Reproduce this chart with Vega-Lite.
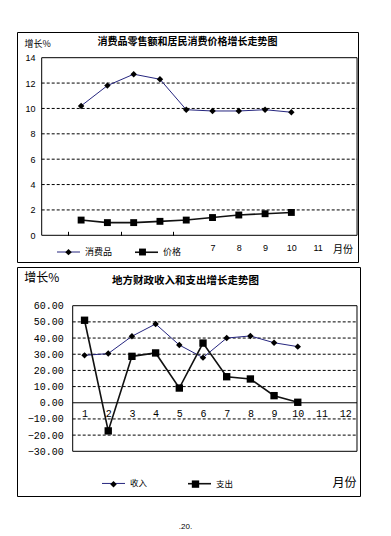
{
  "$schema": "https://vega.github.io/schema/vega-lite/v6.json",
  "padding": {"left": 16, "top": 31, "right": 0, "bottom": 0},
  "background": "white",
  "spacing": 3,
  "title": {"text": ".20.", "orient": "bottom", "anchor": "middle", "fontSize": 8, "fontWeight": "normal", "font": "Liberation Sans", "color": "black", "offset": 26, "dx": -3},
  "config": {
    "view": {"stroke": "black", "strokeWidth": 1},
    "font": "Liberation Sans"
  },
  "resolve": {"scale": {"color": "independent", "shape": "independent", "strokeWidth": "independent"}, "legend": {"color": "independent", "shape": "independent"}},
  "vconcat": [
    {
      "width": 341,
      "height": 230,
      "title": {"text": "消费品零售额和居民消费价格增长走势图", "font": "Noto Sans CJK SC", "fontSize": 10, "fontWeight": "bold", "color": "black", "anchor": "middle", "offset": -15},
      "data": {"values": [
        {"month": 2, "series": "消费品", "value": 10.2},
        {"month": 3, "series": "消费品", "value": 11.8},
        {"month": 4, "series": "消费品", "value": 12.7},
        {"month": 5, "series": "消费品", "value": 12.3},
        {"month": 6, "series": "消费品", "value": 9.9},
        {"month": 7, "series": "消费品", "value": 9.8},
        {"month": 8, "series": "消费品", "value": 9.8},
        {"month": 9, "series": "消费品", "value": 9.9},
        {"month": 10, "series": "消费品", "value": 9.7},
        {"month": 2, "series": "价格", "value": 1.2},
        {"month": 3, "series": "价格", "value": 1.0},
        {"month": 4, "series": "价格", "value": 1.0},
        {"month": 5, "series": "价格", "value": 1.1},
        {"month": 6, "series": "价格", "value": 1.2},
        {"month": 7, "series": "价格", "value": 1.4},
        {"month": 8, "series": "价格", "value": 1.6},
        {"month": 9, "series": "价格", "value": 1.7},
        {"month": 10, "series": "价格", "value": 1.8}
      ]},
      "layer": [
        {
          "data": {"values": [{}]},
          "mark": {"type": "rect", "filled": false, "stroke": "black", "strokeWidth": 1},
          "encoding": {
            "x": {"datum": 0.5, "type": "quantitative", "scale": {"type": "linear", "domain": [-0.44, 12.536], "nice": false, "zero": false},
              "axis": {"orient": "bottom", "offset": -26.7, "tickCount": 100, "format": "d", "values": [1.5, 2.5, 3.5, 4.5, 5.5, 6.5, 7.5, 8.5, 9.5, 10.5, 11.5, 7, 8, 9, 10, 11],
                "labelExpr": "datum.value % 1 ? '' : datum.label", "tickSize": -4, "tickColor": "black", "tickWidth": 1,
                "tickOpacity": {"condition": {"test": "datum.value % 1 == 0", "value": 0}, "value": 1},
                "domain": false, "grid": false, "labelFont": "Liberation Sans", "labelFontSize": 9, "labelColor": "black", "labelPadding": 12,
                "labelOverlap": false, "labelFlush": false, "labelBound": false,
                "title": "月份", "titleX": 325.5, "titleY": 13.7, "titleAlign": "center", "titleBaseline": "middle", "titleFont": "Noto Sans CJK SC", "titleFontSize": 10, "titleFontWeight": "normal", "titleColor": "black"}},
            "x2": {"datum": 12.5},
            "y": {"datum": 0, "type": "quantitative", "scale": {"domain": [-2.105, 16.026], "nice": false, "zero": false},
              "axis": {"orient": "left", "offset": -24.7, "tickCount": 100, "format": "d", "values": [0, 2, 4, 6, 8, 10, 12, 14], "domain": false, "ticks": false, "tickSize": 0, "grid": false,
                "labelFont": "Liberation Sans", "labelFontSize": 9, "labelColor": "black", "labelPadding": 6.7, "labelOverlap": false, "labelFlush": false, "labelBound": false,
                "title": "增长%", "titleAngle": 0, "titleX": -17.7, "titleY": 11, "titleAlign": "left", "titleBaseline": "middle", "titleFont": "Noto Sans CJK SC", "titleFontSize": 9, "titleFontWeight": "normal", "titleColor": "black"}},
            "y2": {"datum": 14}
          }
        },
        {
          "data": {"values": [{"v": 2}, {"v": 4}, {"v": 6}, {"v": 8}, {"v": 10}, {"v": 12}]},
          "mark": {"type": "rule", "color": "black", "strokeWidth": 1, "strokeDash": [3, 2]},
          "encoding": {
            "x": {"datum": 0.5, "type": "quantitative", "scale": {"type": "linear", "domain": [-0.44, 12.536], "nice": false, "zero": false}},
            "x2": {"datum": 12.5},
            "y": {"field": "v", "type": "quantitative", "scale": {"domain": [-2.105, 16.026], "nice": false, "zero": false}}
          }
        },
        {
          "mark": {"type": "line"},
          "encoding": {
            "x": {"field": "month", "type": "quantitative", "scale": {"type": "linear", "domain": [-0.44, 12.536], "nice": false, "zero": false}},
            "y": {"field": "value", "type": "quantitative", "scale": {"domain": [-2.105, 16.026], "nice": false, "zero": false}},
            "color": {"field": "series", "type": "nominal", "scale": {"domain": ["消费品", "价格"], "range": ["#26267f", "#111111"]},
              "legend": {"orient": "none", "legendX": 39, "legendY": 207.5, "direction": "horizontal", "columns": 2, "title": null, "padding": 0,
                "symbolType": "M-1,0H1", "symbolSize": 529, "symbolStrokeWidth": 1.3, "labelFont": "Noto Sans CJK SC", "labelFontSize": 9, "labelColor": "black", "labelOffset": 4, "columnPadding": 18}},
            "strokeWidth": {"field": "series", "type": "nominal", "scale": {"domain": ["消费品", "价格"], "range": [1, 1.6]}, "legend": null}
          }
        },
        {
          "mark": {"type": "point", "filled": true, "color": "black", "opacity": 1, "size": 529},
          "encoding": {
            "x": {"field": "month", "type": "quantitative", "scale": {"type": "linear", "domain": [-0.44, 12.536], "nice": false, "zero": false}},
            "y": {"field": "value", "type": "quantitative", "scale": {"domain": [-2.105, 16.026], "nice": false, "zero": false}},
            "shape": {"field": "series", "type": "nominal", "sort": ["消费品", "价格"], "scale": {"range": ["M0,-0.28L0.28,0L0,0.28L-0.28,0Z", "M-0.3,-0.3H0.3V0.3H-0.3Z"]},
              "legend": {"orient": "none", "legendX": 39, "legendY": 207.5, "direction": "horizontal", "columns": 2, "title": null, "padding": 0,
                "symbolSize": 529, "symbolFillColor": "black", "symbolStrokeColor": "black", "labelFont": "Noto Sans CJK SC", "labelFontSize": 9, "labelExpr": "''", "labelOffset": 4, "columnPadding": 45}}
          }
        }
      ]
    },
    {
      "width": 343,
      "height": 229,
      "title": {"text": "地方财政收入和支出增长走势图", "font": "Noto Sans CJK SC", "fontSize": 10.5, "fontWeight": "bold", "color": "black", "anchor": "middle", "offset": -19, "dx": -3},
      "data": {"values": [
        {"month": 1, "series": "收入", "value": 29.3},
        {"month": 2, "series": "收入", "value": 30.4},
        {"month": 3, "series": "收入", "value": 41.1},
        {"month": 4, "series": "收入", "value": 48.7},
        {"month": 5, "series": "收入", "value": 35.7},
        {"month": 6, "series": "收入", "value": 27.9},
        {"month": 7, "series": "收入", "value": 40.0},
        {"month": 8, "series": "收入", "value": 41.3},
        {"month": 9, "series": "收入", "value": 37.1},
        {"month": 10, "series": "收入", "value": 34.7},
        {"month": 1, "series": "支出", "value": 51.0},
        {"month": 2, "series": "支出", "value": -17.4},
        {"month": 3, "series": "支出", "value": 28.7},
        {"month": 4, "series": "支出", "value": 30.8},
        {"month": 5, "series": "支出", "value": 9.1},
        {"month": 6, "series": "支出", "value": 36.9},
        {"month": 7, "series": "支出", "value": 16.1},
        {"month": 8, "series": "支出", "value": 14.7},
        {"month": 9, "series": "支出", "value": 4.4},
        {"month": 10, "series": "支出", "value": 0.3}
      ]},
      "layer": [
        {
          "data": {"values": [{}]},
          "mark": {"type": "rect", "filled": false, "stroke": "black", "strokeWidth": 1},
          "encoding": {
            "x": {"datum": 0.5, "type": "quantitative", "scale": {"type": "linear", "domain": [-1.851, 12.627], "nice": false, "zero": false},
              "axis": {"orient": "bottom", "offset": -93.23, "tickCount": 100, "format": "d", "values": [1, 2, 3, 4, 5, 6, 7, 8, 9, 10, 11, 12, 1.5, 2.5, 3.5, 4.5, 5.5, 6.5, 7.5, 8.5, 9.5, 10.5, 11.5],
                "labelExpr": "datum.value % 1 ? '' : datum.label", "tickSize": -4, "tickColor": "black", "tickWidth": 1,
                "tickOpacity": {"condition": {"test": "datum.value % 1 == 0", "value": 0}, "value": 1},
                "domain": false, "grid": false, "labelFont": "Liberation Mono", "labelFontSize": 10, "labelColor": "black", "labelPadding": 10,
                "labelOverlap": false, "labelFlush": false, "labelBound": false,
                "title": "月份", "titleX": 327, "titleY": 80.2, "titleAlign": "center", "titleBaseline": "middle", "titleFont": "Noto Sans CJK SC", "titleFontSize": 12, "titleFontWeight": "normal", "titleColor": "black"}},
            "x2": {"datum": 12.5},
            "y": {"datum": -30, "type": "quantitative", "scale": {"domain": [-57.63, 83.92], "nice": false, "zero": false},
              "axis": {"orient": "left", "offset": -55.7, "tickCount": 100, "values": [-30, -20, -10, 0, 10, 20, 30, 40, 50, 60], "format": ".2f", "domain": false, "ticks": false, "tickSize": 0, "grid": false,
                "labelFont": "Liberation Mono", "labelFontSize": 10, "labelColor": "black", "labelPadding": 9.4, "labelOverlap": false, "labelFlush": false, "labelBound": false,
                "title": "增长%", "titleAngle": 0, "titleX": -49, "titleY": 10.7, "titleAlign": "left", "titleBaseline": "middle", "titleFont": "Noto Sans CJK SC", "titleFontSize": 12, "titleFontWeight": "normal", "titleColor": "black"}},
            "y2": {"datum": 60}
          }
        },
        {
          "data": {"values": [{"v": -20}, {"v": -10}, {"v": 10}, {"v": 20}, {"v": 30}, {"v": 40}, {"v": 50}]},
          "mark": {"type": "rule", "color": "black", "strokeWidth": 1, "strokeDash": [3, 2]},
          "encoding": {
            "x": {"datum": 0.5, "type": "quantitative", "scale": {"type": "linear", "domain": [-1.851, 12.627], "nice": false, "zero": false}},
            "x2": {"datum": 12.5},
            "y": {"field": "v", "type": "quantitative", "scale": {"domain": [-57.63, 83.92], "nice": false, "zero": false}}
          }
        },
        {
          "data": {"values": [{}]},
          "mark": {"type": "rule", "color": "black", "strokeWidth": 1},
          "encoding": {
            "x": {"datum": 0.5, "type": "quantitative", "scale": {"type": "linear", "domain": [-1.851, 12.627], "nice": false, "zero": false}},
            "x2": {"datum": 12.5},
            "y": {"datum": 0, "type": "quantitative", "scale": {"domain": [-57.63, 83.92], "nice": false, "zero": false}}
          }
        },
        {
          "mark": {"type": "line"},
          "encoding": {
            "x": {"field": "month", "type": "quantitative", "scale": {"type": "linear", "domain": [-1.851, 12.627], "nice": false, "zero": false}},
            "y": {"field": "value", "type": "quantitative", "scale": {"domain": [-57.63, 83.92], "nice": false, "zero": false}},
            "color": {"field": "series", "type": "nominal", "scale": {"domain": ["收入", "支出"], "range": ["#26267f", "#111111"]},
              "legend": {"orient": "none", "legendX": 84, "legendY": 204.2, "direction": "horizontal", "columns": 2, "title": null, "padding": 0,
                "symbolType": "M-1,0H1", "symbolSize": 529, "symbolStrokeWidth": 1.3, "labelFont": "Noto Sans CJK SC", "labelFontSize": 8.5, "labelColor": "black", "labelOffset": 4, "columnPadding": 36}},
            "strokeWidth": {"field": "series", "type": "nominal", "scale": {"domain": ["收入", "支出"], "range": [1, 1.6]}, "legend": null}
          }
        },
        {
          "mark": {"type": "point", "filled": true, "color": "black", "opacity": 1, "size": 529},
          "encoding": {
            "x": {"field": "month", "type": "quantitative", "scale": {"type": "linear", "domain": [-1.851, 12.627], "nice": false, "zero": false}},
            "y": {"field": "value", "type": "quantitative", "scale": {"domain": [-57.63, 83.92], "nice": false, "zero": false}},
            "shape": {"field": "series", "type": "nominal", "sort": ["收入", "支出"], "scale": {"range": ["M0,-0.28L0.28,0L0,0.28L-0.28,0Z", "M-0.32,-0.32H0.32V0.32H-0.32Z"]},
              "legend": {"orient": "none", "legendX": 84, "legendY": 204.2, "direction": "horizontal", "columns": 2, "title": null, "padding": 0,
                "symbolSize": 529, "symbolFillColor": "black", "symbolStrokeColor": "black", "labelFont": "Noto Sans CJK SC", "labelFontSize": 8.5, "labelExpr": "''", "labelOffset": 4, "columnPadding": 53}}
          }
        }
      ]
    }
  ]
}
